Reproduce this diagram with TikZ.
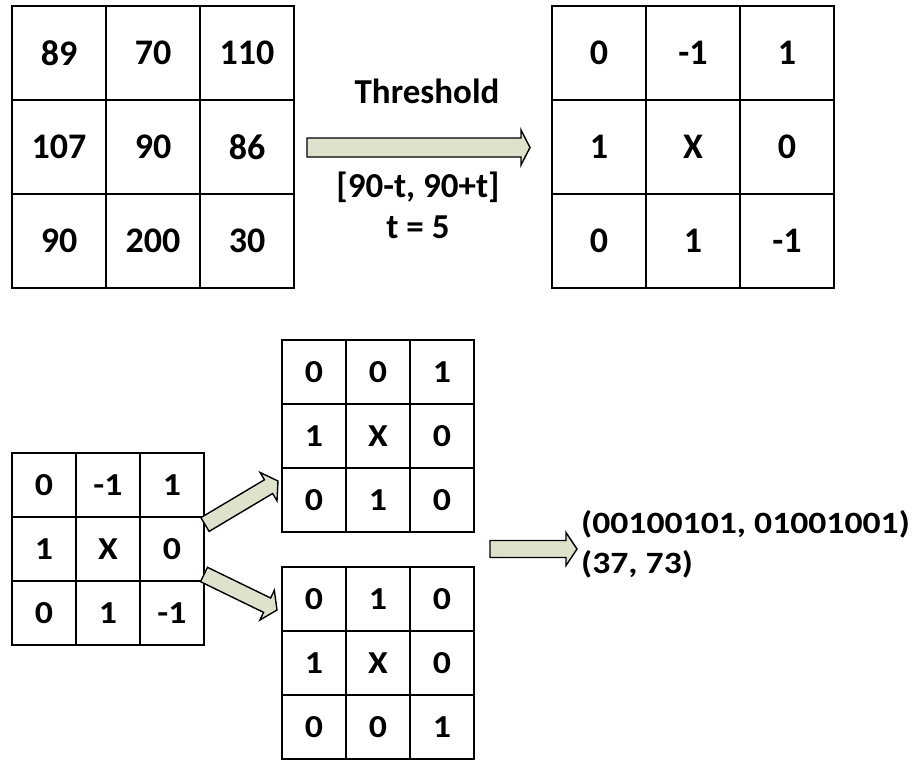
\documentclass[tikz,border=0pt]{standalone}
\usepackage{fontspec}
\setmainfont{Carlito}
\usetikzlibrary{calc}
\definecolor{arrowfill}{RGB}{220,226,204}

\tikzset{
  x=1pt, y=-1pt,
  cellbox/.style={draw, line width=2.6pt, minimum size=#1, inner sep=0pt},
  lbl/.style={inner sep=0pt, font=\bfseries\fontsize{35}{40}\selectfont},
  outlbl/.style={inner sep=0pt, anchor=base west, font=\bfseries\fontsize{31}{36}\selectfont},
  blockarrow/.style={draw, fill=arrowfill, line width=1.4pt, line join=miter},
}

% 3x3 grid of cells: name, left, top, cell size, font size, widening, entries
\newcommand\cellgrid[7]{%
  \foreach \v [count=\i from 0] in {#7} {
    \pgfmathtruncatemacro\rr{div(\i,3)}
    \pgfmathtruncatemacro\cc{mod(\i,3)}
    \node[cellbox=#4pt, font=\bfseries\fontsize{#5}{#5}\selectfont]
      (#1-\rr-\cc) at ({#2+(\cc+0.5)*#4},{#3+(\rr+0.5)*#4}) {\scalebox{#6}[1]{\v}};
  }}

% block arrow: from, to, half body width, half head width, head length
\newcommand\blockarr[5]{%
  \coordinate (#1-#2-hb) at ($(#2)!#5pt!(#1)$);
  \draw[blockarrow] ($(#1)!#3pt!90:(#2)$) -- ($(#1-#2-hb)!#3pt!90:(#2)$)
    -- ($(#1-#2-hb)!#4pt!90:(#2)$) -- (#2) -- ($(#1-#2-hb)!#4pt!-90:(#2)$)
    -- ($(#1-#2-hb)!#3pt!-90:(#2)$) -- ($(#1)!#3pt!-90:(#2)$) -- cycle;}

\begin{document}
\begin{tikzpicture}
\useasboundingbox (0,0) rectangle (917,761);

% pixel values and thresholded pattern
\cellgrid{src}{12}{6}{94}{36}{1}{89,70,110,107,90,86,90,200,30}
\cellgrid{ltp}{552}{6}{94}{36}{1}{0,-1,1,1,X,0,0,1,-1}

% split into upper and lower patterns
\cellgrid{pat}{12}{453}{64}{32}{1.12}{0,-1,1,1,X,0,0,1,-1}
\cellgrid{upp}{282}{340}{64}{32}{1.12}{0,0,1,1,X,0,0,1,0}
\cellgrid{low}{282}{567}{64}{32}{1.12}{0,1,0,1,X,0,0,0,1}

% threshold step
\coordinate (thr-in) at (307,147.5);
\coordinate (thr-out) at (530,147.5);
\blockarr{thr-in}{thr-out}{9.5}{17.5}{9}
\node[lbl, anchor=base] (thr) at (427,103) {Threshold};
\node[lbl, anchor=base] (rng) at (418,197) {[90-t, 90+t]};
\node[lbl, anchor=base] (tval) at (418,238) {t = 5};

% split arrows
\coordinate (up-in) at (205,524.5);
\coordinate (up-out) at (278,481);
\blockarr{up-in}{up-out}{8}{16.5}{11}
\coordinate (lo-in) at (204,574.5);
\coordinate (lo-out) at (277,610);
\blockarr{lo-in}{lo-out}{8}{16.5}{11}

% result
\coordinate (res-in) at (490,549);
\coordinate (res-out) at (577,549);
\blockarr{res-in}{res-out}{8.5}{16.5}{11}
\node[outlbl] (code) at (581,533) {\scalebox{1.15}[1]{(00100101, 01001001)}};
\node[outlbl] (dec) at (581,573) {\scalebox{1.15}[1]{(37, 73)}};
\end{tikzpicture}
\end{document}
